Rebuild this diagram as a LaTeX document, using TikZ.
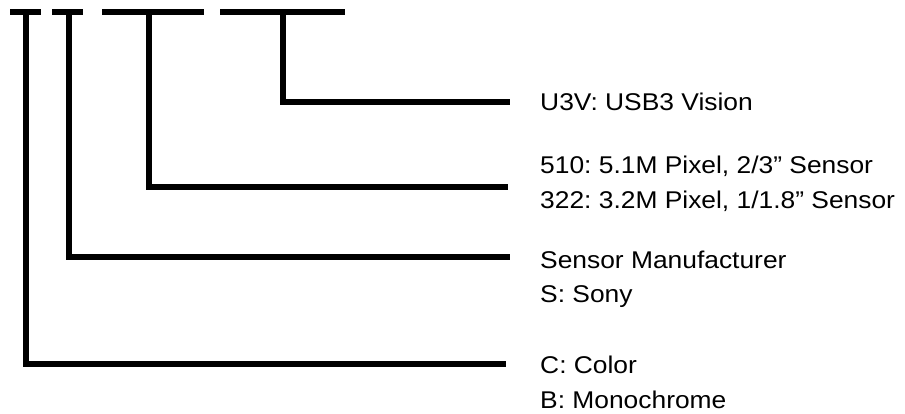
\documentclass[tikz,border=0pt]{standalone}
\usepackage{fontspec}
\setmainfont[FakeStretch=1.09]{Liberation Sans}
\usetikzlibrary{positioning}
\frenchspacing

\begin{document}
\begin{tikzpicture}[
    x=1pt,y=-1pt,
    seg/.style={line width=5.5pt},
    lead/.style={line width=6pt,line join=miter},
    note/.style={anchor=base west,inner sep=0pt,align=left,font=\fontsize{24.2}{34.5}\selectfont}
]
\useasboundingbox (0,0) rectangle (905,414);
% code segments on top
\draw[seg] (10,12) -- (41,12);
\draw[seg] (52,12) -- (83,12);
\draw[seg] (102,12) -- (204,12);
\draw[seg] (220,12) -- (345,12);
\coordinate (color) at (25.5,12);
\coordinate (maker) at (68.5,12);
\coordinate (model) at (149,12);
\coordinate (iface) at (282.5,12);
% labels (base = last line)
\node[note] (ifacetxt) at (540,110.7) {U3V: USB3 Vision};
\node[note] (modeltxt) at (540,208.3) {510: 5.1M Pixel, 2/3” Sensor\\322: 3.2M Pixel, 1/1.8” Sensor};
\node[note] (makertxt) at (540,302.7) {Sensor Manufacturer\\S: Sony};
\node[note] (colortxt) at (540,408.3) {C: Color\\B: Monochrome};
% lead ends
\coordinate (ifaceend) at (510,102);
\coordinate (modelend) at (508,187);
\coordinate (makerend) at (510,257);
\coordinate (colorend) at (506,364);
\draw[lead] (iface) |- (ifaceend);
\draw[lead] (model) |- (modelend);
\draw[lead] (maker) |- (makerend);
\draw[lead] (color) |- (colorend);
\end{tikzpicture}
\end{document}
